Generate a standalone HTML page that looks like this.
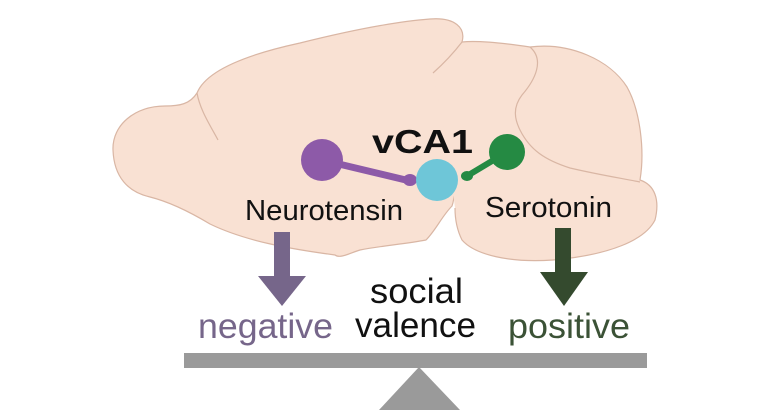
<!DOCTYPE html>
<html><head><style>
html,body{margin:0;padding:0;background:#fff;}
svg{display:block;}
text{font-family:"Liberation Sans",Arial,sans-serif;}
</style></head><body>
<svg width="770" height="420" viewBox="0 0 770 420" xmlns="http://www.w3.org/2000/svg">
<g fill="#f9e1d3" stroke="#d9b6a4" stroke-width="1.2">
<path d="M113,150 C112,125 135,106 165,106 C180,106 190,104 197,93 C205,73 240,56 300,43 C340,33 390,22 430,19 C455,17 466,28 462,42 C448,80 452,120 454,160 C455,185 455,198 452,206 C442,216 436,230 426,240 C405,244 380,246 360,250 C350,253 340,259 335,255 C290,249 245,241 210,224 C190,212 170,202 150,197 C128,192 114,177 113,150 Z"/>
</g>
<path d="M462,42 C480,40 510,44 530,47 C570,42 610,60 627,87 C640,110 645,150 640,180 C655,185 660,200 655,220 C645,240 610,255 553,260 C510,263 475,255 462,240 C457,230 455,218 455,208 L448,150 L433,73 Z" fill="#f9e1d3"/>
<g fill="none" stroke="#d9b6a4" stroke-width="1.2">
<path d="M462,42 C480,40 510,44 530,47 C570,42 610,60 627,87 C640,110 645,150 640,180 C655,185 660,200 655,220 C645,240 610,255 553,260 C510,263 475,255 462,240 C457,230 455,218 455,208"/>
<path d="M462,42 C452,55 442,65 433,73"/>
<path d="M530,47 C545,60 535,80 522,95 C512,108 515,120 520,130 C530,150 545,160 570,168 C600,175 620,178 640,182"/>
<path d="M197,93 C200,110 210,125 218,140"/>
</g>
<line x1="322" y1="160" x2="410" y2="181" stroke="#8d5aa8" stroke-width="7"/>
<circle cx="322" cy="160" r="21" fill="#8d5aa8"/>
<ellipse cx="410" cy="180" rx="7" ry="6" fill="#8d5aa8"/>
<line x1="507" y1="152" x2="467" y2="176" stroke="#258a43" stroke-width="6"/>
<circle cx="507" cy="152" r="18" fill="#258a43"/>
<ellipse cx="467" cy="176" rx="6" ry="5" fill="#258a43"/>
<circle cx="437" cy="180" r="21" fill="#6ec6d8"/>
<text x="372" y="153" font-size="33" font-weight="bold" fill="#111" textLength="101" lengthAdjust="spacingAndGlyphs">vCA1</text>
<text x="245" y="220" font-size="29" fill="#111" textLength="158" lengthAdjust="spacingAndGlyphs">Neurotensin</text>
<text x="485" y="217" font-size="29" fill="#111" textLength="127" lengthAdjust="spacingAndGlyphs">Serotonin</text>
<rect x="274" y="232" width="16" height="44" fill="#76668a"/>
<polygon points="258,276 306,276 282,306" fill="#76668a"/>
<rect x="555" y="228" width="16" height="44" fill="#344a2e"/>
<polygon points="540,272 588,272 564,306" fill="#344a2e"/>
<text x="370" y="303" font-size="35" fill="#111" textLength="93" lengthAdjust="spacingAndGlyphs">social</text>
<text x="355" y="337" font-size="35" fill="#111" textLength="121" lengthAdjust="spacingAndGlyphs">valence</text>
<text x="198" y="338" font-size="35" fill="#76668a" textLength="135" lengthAdjust="spacingAndGlyphs">negative</text>
<text x="508" y="338" font-size="35" fill="#3b5236" textLength="122" lengthAdjust="spacingAndGlyphs">positive</text>
<rect x="184" y="353" width="463" height="15" fill="#9a9a9a"/>
<polygon points="419,367 460,410 379,410" fill="#9a9a9a"/>
</svg>
</body></html>
